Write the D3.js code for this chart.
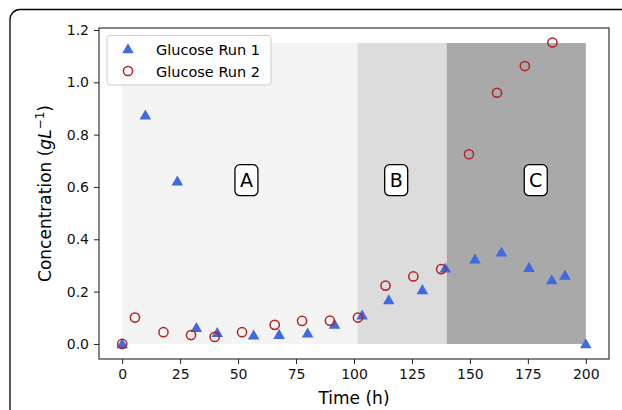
<!DOCTYPE html>
<html>
<head>
<meta charset="utf-8">
<script src="https://cdn.jsdelivr.net/npm/d3@7"></script>
<style>
  body { margin: 0; background: #fff; }
  text { font-family: "DejaVu Sans", sans-serif; }
</style>
</head>
<body>
<script>
// glucose data
var run1Time = [0, 10, 23.8, 32, 41, 56.7, 67.7, 80, 91.6, 103.5, 115, 129.5, 139.4, 152.2, 163.6, 175.5, 185.3, 191, 200];
var run1Conc = [0, 0.874, 0.622, 0.062, 0.043, 0.034, 0.036, 0.041, 0.075, 0.11, 0.168, 0.207, 0.29, 0.324, 0.351, 0.292, 0.245, 0.262, 0];

var run2Time = [0, 5.5, 17.8, 29.7, 39.9, 51.7, 65.8, 77.6, 89.6, 101.7, 113.6, 125.6, 137.6, 149.6, 161.7, 173.7, 185.6];
var run2Conc = [0, 0.101, 0.045, 0.034, 0.027, 0.045, 0.073, 0.088, 0.089, 0.101, 0.223, 0.258, 0.286, 0.725, 0.96, 1.062, 1.152];

// phase regions
var phaseNames = ["A", "B", "C"];
var phaseStart = [0, 101.5, 140];
var phaseEnd = [101.5, 140, 200];
var phaseTop = 1.15;
var phaseColors = ["#f4f4f4", "#dcdcdc", "#a9a9a9"];
var labelX = [53.6, 118.2, 178.4];
var labelY = 0.626;

var xTicks = [0, 25, 50, 75, 100, 125, 150, 175, 200];
var yTicks = [0, 0.2, 0.4, 0.6, 0.8, 1.0, 1.2];

var width = 622, height = 410;
var margin = {top: 28, right: 13, bottom: 51, left: 99};

var svg = d3.select("body").append("svg")
    .attr("width", width)
    .attr("height", height);

// outer rounded frame (runs off the right and bottom)
svg.append("rect")
    .attr("x", 10).attr("y", 9.5)
    .attr("width", 700).attr("height", 500)
    .attr("rx", 10)
    .attr("fill", "none")
    .attr("stroke", "#000")
    .attr("stroke-width", 1.3);

var x = d3.scaleLinear().domain([-10, 210]).range([margin.left, width - margin.right]);
var y = d3.scaleLinear().domain([-0.0575, 1.2075]).range([height - margin.bottom, margin.top]);

var g = svg.append("g");

// shaded phases
g.selectAll(".phase")
    .data(phaseNames)
    .enter().append("rect")
    .attr("class", "phase")
    .attr("x", function(d, i) { return x(phaseStart[i]); })
    .attr("width", function(d, i) { return x(phaseEnd[i]) - x(phaseStart[i]); })
    .attr("y", y(phaseTop))
    .attr("height", y(0) - y(phaseTop))
    .attr("fill", function(d, i) { return phaseColors[i]; });

// axes
var xAxis = d3.axisBottom(x).tickValues(xTicks).tickSize(5).tickPadding(5);
var yAxis = d3.axisLeft(y).tickValues(yTicks).tickSize(5).tickPadding(5).tickFormat(d3.format(".1f"));

var gx = svg.append("g").attr("transform", "translate(0," + (height - margin.bottom) + ")").call(xAxis);
var gy = svg.append("g").attr("transform", "translate(" + margin.left + ",0)").call(yAxis);
[gx, gy].forEach(function(a) {
  a.select(".domain").remove();
  a.selectAll("text").style("font-size", "14px").attr("fill", "#111");
  a.selectAll("line").attr("stroke", "#222");
});

// run 1: triangles
var tri = d3.symbol().type(d3.symbolTriangle).size(58);
g.selectAll(".r1")
    .data(run1Time)
    .enter().append("path")
    .attr("class", "r1")
    .attr("d", tri)
    .attr("transform", function(d, i) { return "translate(" + x(d) + "," + (y(run1Conc[i]) + 1) + ")"; })
    .attr("fill", "#4169e1");

// run 2: open circles
g.selectAll(".r2")
    .data(run2Time)
    .enter().append("circle")
    .attr("class", "r2")
    .attr("cx", function(d) { return x(d); })
    .attr("cy", function(d, i) { return y(run2Conc[i]); })
    .attr("r", 4.6)
    .attr("fill", "none")
    .attr("stroke", "#b22222")
    .attr("stroke-width", 1.5);

// phase labels in boxes
var lab = g.selectAll(".lab")
    .data(phaseNames)
    .enter().append("g")
    .attr("transform", function(d, i) { return "translate(" + x(labelX[i]) + "," + y(labelY) + ")"; });
lab.append("rect")
    .attr("x", -11.5).attr("y", -15.5)
    .attr("width", 23).attr("height", 31)
    .attr("rx", 5)
    .attr("fill", "#fff")
    .attr("stroke", "#000")
    .attr("stroke-width", 1.3);
lab.append("text")
    .attr("text-anchor", "middle")
    .attr("y", 7)
    .style("font-size", "19px")
    .text(function(d) { return d; });

// frame
svg.append("rect")
    .attr("x", margin.left).attr("y", margin.top)
    .attr("width", width - margin.left - margin.right)
    .attr("height", height - margin.top - margin.bottom)
    .attr("fill", "none")
    .attr("stroke", "#222")
    .attr("stroke-width", 1.1);

// legend
var leg = svg.append("g");
leg.append("rect")
    .attr("x", 107).attr("y", 35.5)
    .attr("width", 164).attr("height", 49.5)
    .attr("rx", 3)
    .attr("fill", "#fff").attr("fill-opacity", 0.85)
    .attr("stroke", "#ccc");
leg.append("path")
    .attr("d", tri)
    .attr("transform", "translate(128," + 50 + ")")
    .attr("fill", "#4169e1");
leg.append("circle")
    .attr("cx", 128).attr("cy", 71)
    .attr("r", 4.6)
    .attr("fill", "none").attr("stroke", "#b22222").attr("stroke-width", 1.5);
leg.append("text").attr("x", 156).attr("y", 54.5).style("font-size", "14.5px").text("Glucose Run 1");
leg.append("text").attr("x", 156).attr("y", 76.5).style("font-size", "14.5px").text("Glucose Run 2");

// axis labels
svg.append("text")
    .attr("x", (margin.left + width - margin.right) / 2)
    .attr("y", 404)
    .attr("text-anchor", "middle")
    .style("font-size", "17px")
    .text("Time (h)");

var yl = svg.append("text")
    .attr("transform", "translate(51," + ((margin.top + height - margin.bottom) / 2) + ") rotate(-90)")
    .attr("text-anchor", "middle")
    .style("font-size", "17px");
yl.append("tspan").text("Concentration (");
yl.append("tspan").style("font-style", "italic").text("gL");
yl.append("tspan").attr("dy", -7).style("font-size", "12px").text("\u22121");
yl.append("tspan").attr("dy", 7).text(")");
</script>
</body>
</html>
